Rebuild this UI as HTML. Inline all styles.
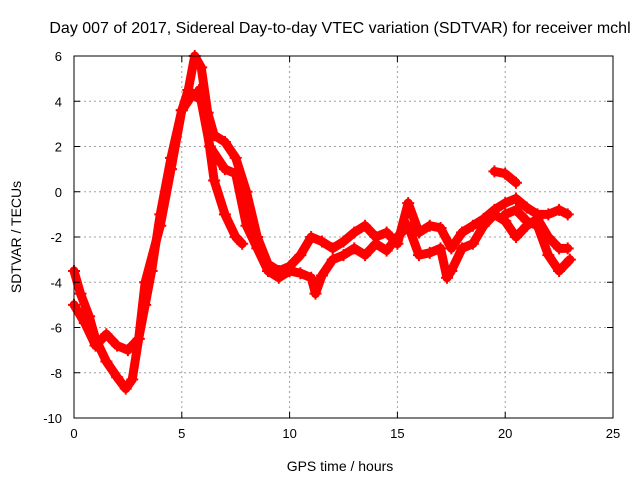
<!DOCTYPE html>
<html><head><meta charset="utf-8"><style>
body{margin:0;background:#fff}
svg{display:block;font-family:"Liberation Sans",sans-serif;font-size:13px}
</style></head><body>
<svg id="chart" width="640" height="480" viewBox="0 0 640 480" xmlns="http://www.w3.org/2000/svg">
<text x="340" y="33" text-anchor="middle" font-size="16">Day 007 of 2017, Sidereal Day-to-day VTEC variation (SDTVAR) for receiver mchl</text>
<g id="grid"></g>
<g id="series"></g>
<rect x="74" y="56" width="539" height="362" fill="none" stroke="#000" stroke-width="1"/>
<g id="ticks"></g>
<text x="340" y="471" text-anchor="middle" font-size="14">GPS time / hours</text>
<text transform="translate(21,237) rotate(-90)" text-anchor="middle" font-size="14">SDTVAR / TECUs</text>
</svg>
<script>
const xTicks=[0,5,10,15,20,25];
const yTicks=[6,4,2,0,-2,-4,-6,-8,-10];
const seriesA=[[0,-3.5],[0.3,-4.5],[0.7,-5.5],[1.0,-6.5],[1.5,-7.5],[2.0,-8.2],[2.4,-8.7],[2.7,-8.3],[3.0,-6.5],[3.3,-5],[3.6,-3.5],[4.0,-1],[4.5,1.5],[5.0,3.6],[5.3,4.5],[5.6,6],[5.9,5.5],[6.2,3.5],[6.5,2.5],[7.0,2.2],[7.5,1.5],[8.0,0],[8.5,-2],[9.0,-3.2],[9.5,-3.5],[10,-3.3],[10.5,-2.8],[11,-2],[11.5,-2.2],[12,-2.5],[12.5,-2.2],[13,-1.8],[13.5,-1.5],[14,-2],[14.5,-1.8],[15,-2.3],[15.5,-0.5],[16,-1.8],[16.5,-1.5],[17,-1.6],[17.5,-2.5],[18,-1.8],[18.5,-1.5],[19,-1.2],[19.5,-0.8],[20,-0.5],[20.5,-0.3],[21,-0.7],[21.5,-1.0],[22,-1.0],[22.5,-0.8],[22.9,-1.0]];
const seriesB=[[0,-5],[0.5,-5.8],[1.0,-6.8],[1.5,-6.3],[2.0,-6.8],[2.5,-7.0],[3,-6.5],[3.3,-4],[4,-1.5],[4.5,1],[5,3.6],[5.5,4.3],[6,4],[6.5,0.5],[7,-1],[7.5,-2],[7.8,-2.3]];
const seriesC=[[5.8,4.5],[6.3,2],[7,1],[7.5,0.8],[8,-1.5],[8.5,-2.5],[9,-3.5],[9.5,-3.8],[10,-3.5],[10.5,-3.6],[11,-3.8],[11.2,-4.5],[11.5,-3.7],[12,-3],[12.5,-2.8],[13,-2.5],[13.5,-2.8],[14,-2.3],[14.5,-2.6],[15,-2.0],[15.5,-1.5],[16,-2.8],[16.5,-2.7],[17,-2.5],[17.3,-3.8],[17.5,-3.5],[18,-2.5],[18.5,-2.3],[19,-1.5],[19.5,-1.0],[20,-1.3],[20.5,-2.0],[21,-1.5],[21.5,-1.2],[22,-2.0],[22.5,-2.5],[22.9,-2.5]];
const seriesD=[[19.5,0.9],[20,0.8],[20.5,0.4]];
const seriesE=[[20.0,-1.0],[20.5,-0.8],[21,-1.3],[21.5,-1.5],[22,-2.8],[22.5,-3.5],[23,-3.0]];
const allSeries=[seriesA,seriesB,seriesC,seriesD,seriesE];
const NS="http://www.w3.org/2000/svg";
const X0=74,X1=613,Y0=418,Y1=56;
const xs=h=>X0+(h-0)/(25-0)*(X1-X0);
const ys=v=>Y0-(v+10)/(16)*(Y0-Y1);
function mk(tag,attrs,parent){const e=document.createElementNS(NS,tag);for(const k in attrs)e.setAttribute(k,attrs[k]);parent.appendChild(e);return e;}
const grid=document.getElementById('grid'),ticks=document.getElementById('ticks'),ser=document.getElementById('series');
xTicks.forEach(t=>{const x=xs(t);
 const g=mk('line',{x1:x,x2:x,y1:Y1,y2:Y0,stroke:'#a0a0a0','stroke-dasharray':'2,3'},grid);
 
 
 mk('line',{x1:x,x2:x,y1:Y0,y2:Y0-6,stroke:'#000'},ticks);
 mk('line',{x1:x,x2:x,y1:Y1,y2:Y1+6,stroke:'#000'},ticks);
 const l=mk('text',{x:x,y:Y0+20,'text-anchor':'middle'},ticks);l.textContent=t;
 
 
});
yTicks.forEach(t=>{const y=ys(t);
 const g=mk('line',{x1:X0,x2:X1,y1:y,y2:y,stroke:'#a0a0a0','stroke-dasharray':'2,3'},grid);
 
 
 mk('line',{x1:X0,x2:X0+6,y1:y,y2:y,stroke:'#000'},ticks);
 mk('line',{x1:X1,x2:X1-6,y1:y,y2:y,stroke:'#000'},ticks);
 const l=mk('text',{x:X0-12,y:y+5,'text-anchor':'end'},ticks);l.textContent=t;
 
 
});
allSeries.forEach((s,i)=>{
 const p=mk('polyline',{points:s.map(d=>xs(d[0])+','+ys(d[1])).join(' '),fill:'none',stroke:'#ff0000','stroke-width':9,'stroke-linejoin':'round','stroke-linecap':'round'},ser);
 
 
 s.forEach(d=>{const x=xs(d[0]),y=ys(d[1]);
  const m=mk('path',{d:`M${x-6},${y}h12M${x},${y-6}v12`,stroke:'#ff0000','stroke-width':2},ser);
  
  
 });
});
</script>
</body></html>
